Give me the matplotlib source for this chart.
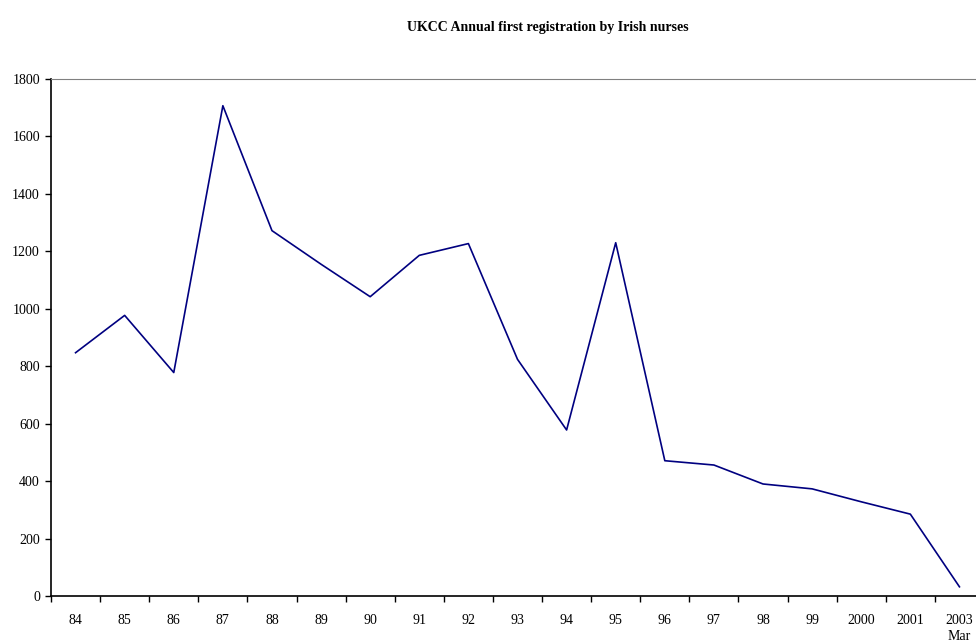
import numpy as np
import matplotlib
matplotlib.use("Agg")
import matplotlib.pyplot as plt

# --- Data ---
years = ["84", "85", "86", "87", "88", "89", "90", "91", "92", "93",
         "94", "95", "96", "97", "98", "99", "2000", "2001", "2003\nMar"]
registrations = [847, 977, 778, 1707, 1272, 1155, 1042, 1186, 1227, 824,
                 578, 1230, 471, 456, 390, 373, 328, 285, 32]

plt.rcParams['font.family'] = ['Liberation Serif', 'DejaVu Serif']

fig = plt.figure(figsize=(9.76, 6.43), dpi=100)
ax = fig.add_axes([51 / 976, 47 / 643, 933 / 976, 517 / 643])

x = np.arange(len(years))
ax.plot(x, registrations, color='#000080', linewidth=1.2)

ax.set_xlim(-0.5, len(years) - 0.5)
ax.set_ylim(0, 1800)
ax.set_yticks(np.arange(0, 1801, 200))

# category labels centred, tick marks between categories
ax.set_xticks(x)
ax.set_xticklabels(years, fontsize=10, va='top', linespacing=1.25)
ax.set_xticks(np.arange(-0.5, len(years), 1), minor=True)
ax.tick_params(axis='x', which='major', length=0, pad=13)
ax.tick_params(axis='x', which='minor', length=4, width=1, direction='out')
ax.tick_params(axis='y', length=4, width=1, direction='out', labelsize=10, pad=4)

ax.spines['right'].set_visible(False)
ax.spines['top'].set_color('#808080')
ax.spines['left'].set_linewidth(1.2)
ax.spines['bottom'].set_linewidth(1.2)

fig.text(548 / 976, 1 - 27 / 643, "UKCC Annual first registration by Irish nurses",
         ha='center', va='center', fontsize=10, fontweight='bold')

fig.savefig("out.png", dpi=100)
